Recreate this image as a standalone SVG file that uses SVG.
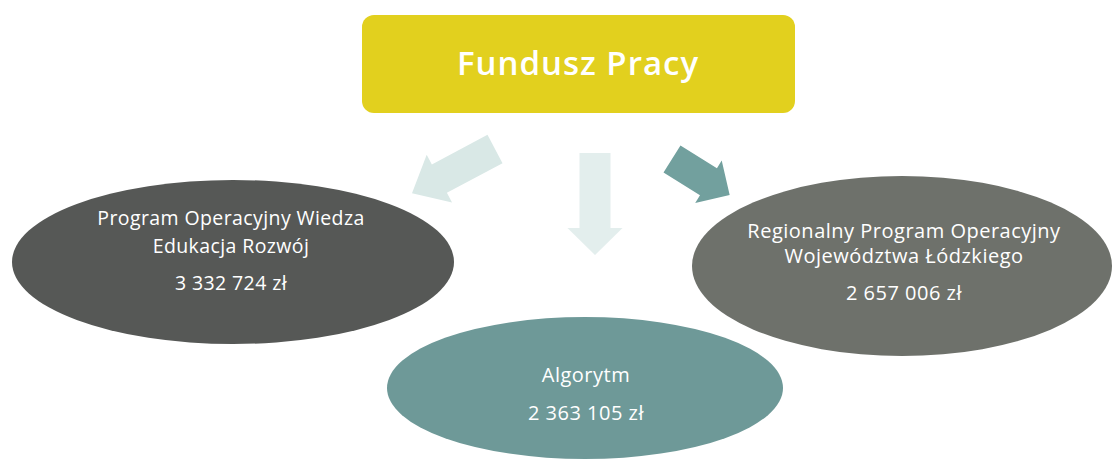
<svg xmlns="http://www.w3.org/2000/svg" width="1113" height="466" viewBox="0 0 1113 466">
<style>
.lbl{font-family:"Open Sans","Liberation Sans",sans-serif;fill:#ffffff;text-anchor:middle;font-size:20px;letter-spacing:0.5px}
.sm{font-size:19.5px;letter-spacing:0.4px}
.title{font-family:"Open Sans","Liberation Sans",sans-serif;fill:#ffffff;text-anchor:middle;font-size:33px;font-weight:600;letter-spacing:1px}
</style>
<rect width="1113" height="466" fill="#ffffff"/>
<g id="connectors">
<path d="M0,-16 L63,-16 L63,-27 L94,0 L63,27 L63,16 L0,16 Z" fill="#d9e8e6" transform="translate(495,149) rotate(152)"/>
<path d="M0,-15.5 L75,-15.5 L75,-27.5 L102,0 L75,27.5 L75,15.5 L0,15.5 Z" fill="#e3eeed" transform="translate(595,153) rotate(90)"/>
<path d="M0,-16 L43,-16 L43,-25 L68,0 L43,25 L43,16 L0,16 Z" fill="#72a09e" transform="translate(672,159) rotate(32)"/>
</g>
<g id="fundusz">
<rect x="362" y="15" width="433" height="98" rx="12" fill="#e2d01e"/>
<text class="title" x="578" y="75">Fundusz Pracy</text>
</g>
<g id="power">
<ellipse cx="233" cy="262" rx="221" ry="82" fill="#565856"/>
<text class="lbl sm" x="231" y="225">Program Operacyjny Wiedza</text>
<text class="lbl sm" x="231" y="253">Edukacja Rozwój</text>
<text class="lbl sm" x="231" y="290">3 332 724 zł</text>
</g>
<g id="rpo">
<ellipse cx="902" cy="266" rx="210" ry="90" fill="#6e716b"/>
<text class="lbl" x="904" y="238">Regionalny Program Operacyjny</text>
<text class="lbl" x="904" y="263">Województwa Łódzkiego</text>
<text class="lbl" x="904" y="300">2 657 006 zł</text>
</g>
<g id="algorytm">
<ellipse cx="585" cy="388" rx="198" ry="71" fill="#6e9998"/>
<text class="lbl" x="586" y="382">Algorytm</text>
<text class="lbl" x="586" y="420">2 363 105 zł</text>
</g>
</svg>
